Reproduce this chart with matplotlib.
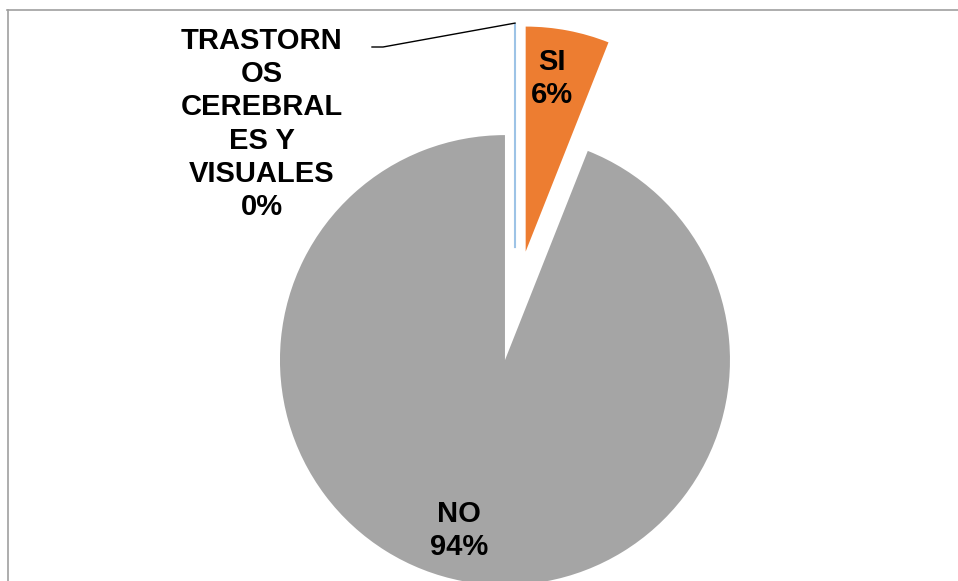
import matplotlib.pyplot as plt
import numpy as np

labels = ['TRASTORN\nOS\nCEREBRAL\nES Y\nVISUALES', 'SI', 'NO']
values = [0, 6, 94]
colors = ['#9DC3E6', '#ED7D31', '#A5A5A5']
explode = [0.264, 0.253, 0.238]  # fraction of radius

plt.rcParams['font.family'] = ['Liberation Sans', 'DejaVu Sans']

R = 225
fig = plt.figure(figsize=(9.58, 5.81), dpi=100)
ax = fig.add_axes([0, 0, 1, 1])

# pie's explode is in data units, so scale by the radius
wedges, _ = ax.pie(values, colors=colors, explode=[e * R for e in explode],
                   startangle=90, counterclock=False, radius=R,
                   center=(515, 273.5))
wedges[0].set_edgecolor(colors[0])
wedges[0].set_linewidth(1.5)

ax.set_xlim(0, 958)
ax.set_ylim(0, 581)
ax.set_aspect('equal')
ax.axis('off')

# in-slice labels (small nudges like excel's placement)
nudge = [(-7, 1), (-13, 2)]
for w, lab, v, (nx, ny) in zip(wedges[1:], labels[1:], values[1:], nudge):
    mid = np.deg2rad((w.theta1 + w.theta2) / 2)
    cx, cy = w.center
    ax.text(cx + 0.78 * w.r * np.cos(mid) + nx,
            cy + 0.78 * w.r * np.sin(mid) + ny,
            f'{lab}\n{v}%', ha='center', va='center', fontsize=21,
            fontweight='bold', color='black', linespacing=1.24)

# 0% slice label with leader line
w0 = wedges[0]
tip_x = w0.center[0]
tip_y = w0.center[1] + w0.r
lx, ly = 262, 581 - 124
ax.text(lx, ly, f'{labels[0]}\n{values[0]}%', ha='center', va='center',
        fontsize=21, fontweight='bold', color='black', linespacing=1.24)
ax.plot([lx + 110, lx + 121, tip_x], [ly + 77, ly + 77, tip_y],
        color='black', lw=1)

# chart border
fig.add_artist(plt.Line2D([7.5 / 958, 7.5 / 958], [0, 1 - 10 / 581],
                          transform=fig.transFigure, color='#A0A0A0', lw=1.2))
fig.add_artist(plt.Line2D([7 / 958, 1], [1 - 10 / 581, 1 - 10 / 581],
                          transform=fig.transFigure, color='#A0A0A0', lw=1.2))

fig.savefig('out.png', dpi=100)
